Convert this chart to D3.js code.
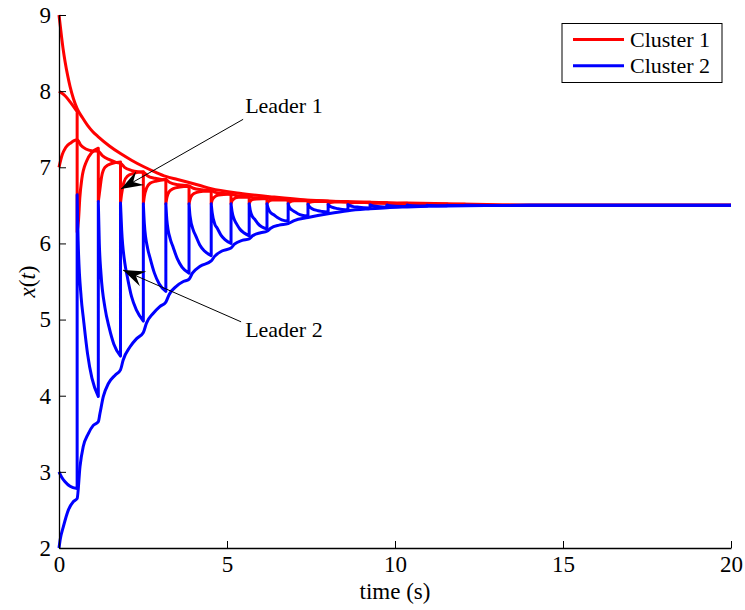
<!DOCTYPE html>
<html><head><meta charset="utf-8">
<script src="https://cdn.jsdelivr.net/npm/d3@7"></script>
<style>
html,body{margin:0;padding:0;background:#fff;}
svg text{font-family:"Liberation Serif","DejaVu Serif","Times New Roman",Times,serif !important;}
</style></head>
<body><svg id="chart" width="745" height="610"></svg>
<script>
// ---------------- data ----------------
const xTicks = [0, 5, 10, 15, 20];
const yTicks = [2, 3, 4, 5, 6, 7, 8, 9];
const seriesNames = ["Cluster 1", "Cluster 2"];
const seriesColors = ["#ff0000", "#0000ff"];

// Cluster 1 agent starting at 9 (smooth decay)
const cluster1AgentA = [[0,9.0],[0.04,8.85],[0.08,8.7],[0.13,8.53],[0.18,8.39],[0.26,8.2],[0.33,8.06],[0.43,7.9],[0.54,7.77],[0.7,7.65],[0.85,7.55],[1.0,7.47],[1.17,7.40],[1.5,7.28],[1.83,7.18],[2.17,7.09],[2.51,7.01],[2.85,6.94],[3.18,6.88],[3.53,6.84],[3.87,6.80],[4.2,6.76],[4.53,6.72],[5.37,6.66],[6.37,6.61],[7.36,6.57],[8.36,6.55],[9.5,6.53],[11,6.515],[13,6.503],[20,6.5]];

// Cluster 1 agent starting at 7 (scalloped)
const cluster1AgentC = [[0,7.0],[0.1,7.17],[0.2,7.26],[0.35,7.32],[0.54,7.36],[0.65,7.29],[0.8,7.24],[1.0,7.215],[1.17,7.21],[1.3,7.15],[1.5,7.1],[1.7,7.065],[1.83,7.055],[1.95,7.0],[2.15,6.96],[2.35,6.94],[2.51,6.935],[2.63,6.89],[2.85,6.855],[3.05,6.84],[3.18,6.835],[3.3,6.8],[3.55,6.77],[3.87,6.755],[4.0,6.725],[4.25,6.705],[4.53,6.695],[4.65,6.67],[4.9,6.655],[5.12,6.65],[5.25,6.63],[5.66,6.615],[5.8,6.6],[6.19,6.595],[6.35,6.585],[6.82,6.578],[7.0,6.57],[7.41,6.565],[8.01,6.555],[8.6,6.548],[9.26,6.54],[10.36,6.53],[11.55,6.52],[12.74,6.51],[14,6.503],[20,6.5]];

// Leader 1 (starts at 8, reset at each impulse)
const leader1 = [[0,8.0],[0.18,7.94],[0.33,7.86],[0.54,7.73],
 [0.54,6.15],[0.58,6.3],[0.62,6.6],[0.68,6.85],[0.82,7.08],[0.97,7.19],[1.17,7.25],
 [1.17,6.55],[1.2,6.65],[1.27,6.88],[1.37,7.0],[1.57,7.05],[1.83,7.07],
 [1.83,6.53],[1.86,6.64],[1.93,6.8],[2.03,6.88],[2.22,6.92],[2.51,6.94],
 [2.51,6.52],[2.54,6.62],[2.61,6.73],[2.71,6.79],[2.9,6.82],[3.18,6.84],
 [3.18,6.52],[3.21,6.6],[3.28,6.68],[3.4,6.72],[3.6,6.74],[3.87,6.75],
 [3.87,6.52],[3.9,6.58],[3.97,6.64],[4.1,6.67],[4.3,6.685],[4.53,6.69],
 [4.53,6.52],[4.56,6.57],[4.63,6.61],[4.75,6.635],[5.12,6.65],
 [5.12,6.52],[5.15,6.56],[5.22,6.59],[5.35,6.605],[5.66,6.61],
 [5.66,6.52],[5.7,6.56],[5.8,6.58],[6.19,6.59],
 [6.19,6.52],[6.23,6.55],[6.35,6.57],[6.82,6.575],
 [6.82,6.52],[6.87,6.545],[7.0,6.56],[7.41,6.565],
 [7.41,6.515],[7.46,6.54],[7.6,6.55],[8.01,6.555],
 [8.01,6.512],[8.07,6.535],[8.2,6.545],[8.6,6.548],
 [8.6,6.51],[8.66,6.53],[8.8,6.538],[9.26,6.54],
 [9.26,6.508],[9.33,6.525],[9.76,6.533],
 [9.76,6.506],[9.83,6.52],[10.36,6.528],
 [10.36,6.505],[10.45,6.517],[10.95,6.522],
 [10.95,6.503],[11.05,6.513],[11.55,6.518],
 [11.55,6.502],[11.65,6.51],[12.08,6.513],
 [12.08,6.501],[12.2,6.507],[12.74,6.509],
 [12.74,6.5],[14,6.502],[20,6.5]];

// Leader 2 (starts at 3, reset at each impulse)
const leader2 = [[0,3.0],[0.08,2.93],[0.18,2.87],[0.33,2.81],[0.54,2.78],
 [0.54,6.64],[0.57,6.03],[0.66,5.29],[0.73,5.0],[0.85,4.55],[0.98,4.23],[1.17,3.99],
 [1.17,6.55],[1.2,6.0],[1.25,5.6],[1.37,5.15],[1.49,4.9],[1.63,4.68],[1.83,4.52],
 [1.83,6.53],[1.865,6.18],[1.96,5.74],[2.03,5.57],[2.16,5.3],[2.31,5.12],[2.51,4.98],
 [2.51,6.52],[2.54,6.26],[2.64,5.93],[2.71,5.81],[2.84,5.61],[2.98,5.47],[3.18,5.37],
 [3.18,6.52],[3.21,6.31],[3.31,6.06],[3.39,5.96],[3.52,5.8],[3.66,5.69],[3.87,5.61],
 [3.87,6.52],[3.9,6.36],[4.0,6.17],[4.07,6.1],[4.19,5.98],[4.33,5.9],[4.53,5.84],
 [4.53,6.52],[4.56,6.4],[4.64,6.25],[4.71,6.2],[4.82,6.11],[4.94,6.05],[5.12,6.0],
 [5.12,6.52],[5.15,6.42],[5.22,6.31],[5.28,6.26],[5.38,6.19],[5.5,6.14],[5.66,6.1],
 [5.66,6.52],[5.69,6.44],[5.76,6.35],[5.82,6.32],[5.92,6.26],[6.03,6.22],[6.19,6.19],
 [6.19,6.52],[6.22,6.47],[6.31,6.4],[6.38,6.38],[6.5,6.34],[6.63,6.31],[6.82,6.29],
 [6.82,6.52],[6.85,6.48],[6.93,6.44],[7.0,6.42],[7.11,6.39],[7.23,6.37],[7.41,6.36],
 [7.41,6.515],[7.44,6.49],[7.52,6.46],[7.71,6.43],[7.83,6.42],[8.01,6.41],
 [8.01,6.512],[8.04,6.496],[8.12,6.476],[8.3,6.457],[8.6,6.44],
 [8.6,6.51],[8.64,6.5],[8.73,6.487],[8.93,6.475],[9.26,6.465],
 [9.26,6.508],[9.3,6.5],[9.42,6.488],[9.76,6.476],
 [9.76,6.506],[9.8,6.499],[9.93,6.492],[10.36,6.485],
 [10.36,6.505],[10.42,6.498],[10.95,6.49],
 [10.95,6.503],[11.02,6.498],[11.55,6.494],
 [11.55,6.502],[11.62,6.499],[12.08,6.497],
 [12.08,6.501],[12.74,6.499],[14,6.5],[20,6.5]];

// Cluster 2 agent starting at 2 (scalloped, rising)
const cluster2AgentB = [[0,2.0],[0.04,2.12],[0.13,2.28],[0.28,2.5],[0.43,2.61],[0.54,2.65],[0.625,3.07],[0.72,3.33],[0.87,3.5],[1.02,3.61],[1.17,3.66],[1.22,3.77],[1.32,3.99],[1.47,4.16],[1.67,4.27],[1.83,4.34],[1.91,4.47],[2.11,4.64],[2.31,4.75],[2.51,4.83],[2.6,4.95],[2.8,5.08],[3.0,5.17],[3.18,5.23],[3.28,5.33],[3.5,5.44],[3.7,5.5],[3.87,5.53],[3.97,5.61],[4.2,5.7],[4.53,5.77],[4.63,5.83],[4.85,5.9],[5.12,5.94],[5.22,5.99],[5.45,6.04],[5.66,6.06],[5.76,6.1],[6.0,6.14],[6.19,6.16],[6.3,6.2],[6.55,6.24],[6.82,6.26],[7.0,6.3],[7.41,6.34],[8.01,6.39],[8.6,6.43],[9.26,6.455],[9.76,6.47],[10.36,6.48],[10.95,6.488],[11.55,6.493],[12.74,6.498],[14,6.5],[20,6.5]];

const cluster1Series = [cluster1AgentA, cluster1AgentC, leader1];
const cluster2Series = [cluster2AgentB, leader2];

// annotations (data coordinates)
const annotationLabels = ["Leader 1", "Leader 2"];
const annotationTextPos = [[5.54, 7.71], [5.54, 4.77]];
const annotationLineStart = [[5.48, 7.63], [5.42, 4.97]];
const annotationTip = [[1.845, 6.715], [1.905, 5.65]];

// ---------------- chart ----------------
const W = 745, H = 610;
const m = {left: 59, right: 14, top: 15, bottom: 62};
const FONT = '"Liberation Serif","DejaVu Serif","Times New Roman",Times,serif';
const svg = d3.select("#chart").attr("font-family", FONT);
const x = d3.scaleLinear().domain([0, 20]).range([m.left, W - m.right]);
const y = d3.scaleLinear().domain([2, 9]).range([H - m.bottom, m.top]);

const line = d3.line().x(d => x(d[0])).y(d => y(d[1])).curve(d3.curveMonotoneX);
function trajPath(pts) {
  const segs = [];
  let cur = [pts[0]];
  for (let i = 1; i < pts.length; i++) {
    if (pts[i][0] === pts[i-1][0]) { segs.push(cur); cur = [pts[i]]; }
    else cur.push(pts[i]);
  }
  segs.push(cur);
  let d = "";
  segs.forEach((s, i) => {
    let p = s.length > 1 ? line(s) : `M${x(s[0][0])},${y(s[0][1])}`;
    if (i > 0) p = "L" + p.slice(1);
    d += p;
  });
  return d;
}

const lineWidth = 3;
const plot = svg.append("g");
cluster1Series.forEach(s => plot.append("path").attr("d", trajPath(s))
  .attr("fill", "none").attr("stroke", seriesColors[0]).attr("stroke-width", lineWidth).attr("stroke-linejoin", "round"));
cluster2Series.forEach(s => plot.append("path").attr("d", trajPath(s))
  .attr("fill", "none").attr("stroke", seriesColors[1]).attr("stroke-width", lineWidth).attr("stroke-linejoin", "round"));

// axes
const tickFont = 23;
const xAxis = d3.axisBottom(x).tickValues(xTicks).tickFormat(d3.format("d")).tickSizeInner(-7).tickSizeOuter(0).tickPadding(8);
const yAxis = d3.axisLeft(y).tickValues(yTicks).tickFormat(d3.format("d")).tickSizeInner(-7).tickSizeOuter(0).tickPadding(8);
const gx = svg.append("g").attr("transform", `translate(0,${H - m.bottom})`).call(xAxis);
const gy = svg.append("g").attr("transform", `translate(${m.left},0)`).call(yAxis);
[gx, gy].forEach(g => {
  g.attr("font-family", FONT);
  g.selectAll("path.domain").attr("stroke", "#000").attr("stroke-width", 1.3);
  g.selectAll(".tick line").attr("stroke", "#000").attr("stroke-width", 1);
  g.selectAll(".tick text").attr("font-size", tickFont).attr("fill", "#000").attr("font-family", FONT);
});
gx.selectAll(".tick text").attr("dy", "0.71em");

svg.append("text").attr("x", (x(0) + x(20)) / 2).attr("y", 599)
  .attr("text-anchor", "middle").attr("font-size", tickFont).attr("font-family", FONT).text("time (s)");

const yl = svg.append("text").attr("transform", `translate(35,${(y(2)+y(9))/2}) rotate(-90)`)
  .attr("text-anchor", "middle").attr("font-size", tickFont).attr("font-family", FONT);
yl.append("tspan").attr("font-style", "italic").text("x");
yl.append("tspan").text("(");
yl.append("tspan").attr("font-style", "italic").text("t");
yl.append("tspan").text(")");

// annotations with arrows
function arrow(x1, y1, x2, y2) {
  svg.append("line").attr("x1", x1).attr("y1", y1).attr("x2", x2).attr("y2", y2)
    .attr("stroke", "#000").attr("stroke-width", 1);
  const ang = Math.atan2(y2 - y1, x2 - x1);
  const L = 22, Wd = 8, notch = 14;
  const pt = (d, s) => [x2 - Math.cos(ang) * d - Math.sin(ang) * s, y2 - Math.sin(ang) * d + Math.cos(ang) * s];
  const p1 = pt(L, Wd), p2 = pt(notch, 0), p3 = pt(L, -Wd);
  svg.append("path").attr("d", `M${x2},${y2}L${p1[0]},${p1[1]}L${p2[0]},${p2[1]}L${p3[0]},${p3[1]}Z`).attr("fill", "#000");
}
annotationLabels.forEach((lab, i) => {
  svg.append("text").attr("x", x(annotationTextPos[i][0])).attr("y", y(annotationTextPos[i][1]))
    .attr("font-size", 22).attr("font-family", FONT).text(lab);
  arrow(x(annotationLineStart[i][0]), y(annotationLineStart[i][1]), x(annotationTip[i][0]), y(annotationTip[i][1]));
});

// legend
const lg = svg.append("g");
lg.append("rect").attr("x", 562).attr("y", 23.5).attr("width", 160).attr("height", 59)
  .attr("fill", "#fff").attr("stroke", "#000").attr("stroke-width", 1);
seriesNames.forEach((n, i) => {
  const yy = 39.5 + i * 26.3;
  lg.append("line").attr("x1", 573).attr("x2", 624).attr("y1", yy).attr("y2", yy)
    .attr("stroke", seriesColors[i]).attr("stroke-width", lineWidth);
  lg.append("text").attr("x", 630).attr("y", yy + 7.5).attr("font-size", 22).attr("font-family", FONT).text(n);
});
</script></body></html>
